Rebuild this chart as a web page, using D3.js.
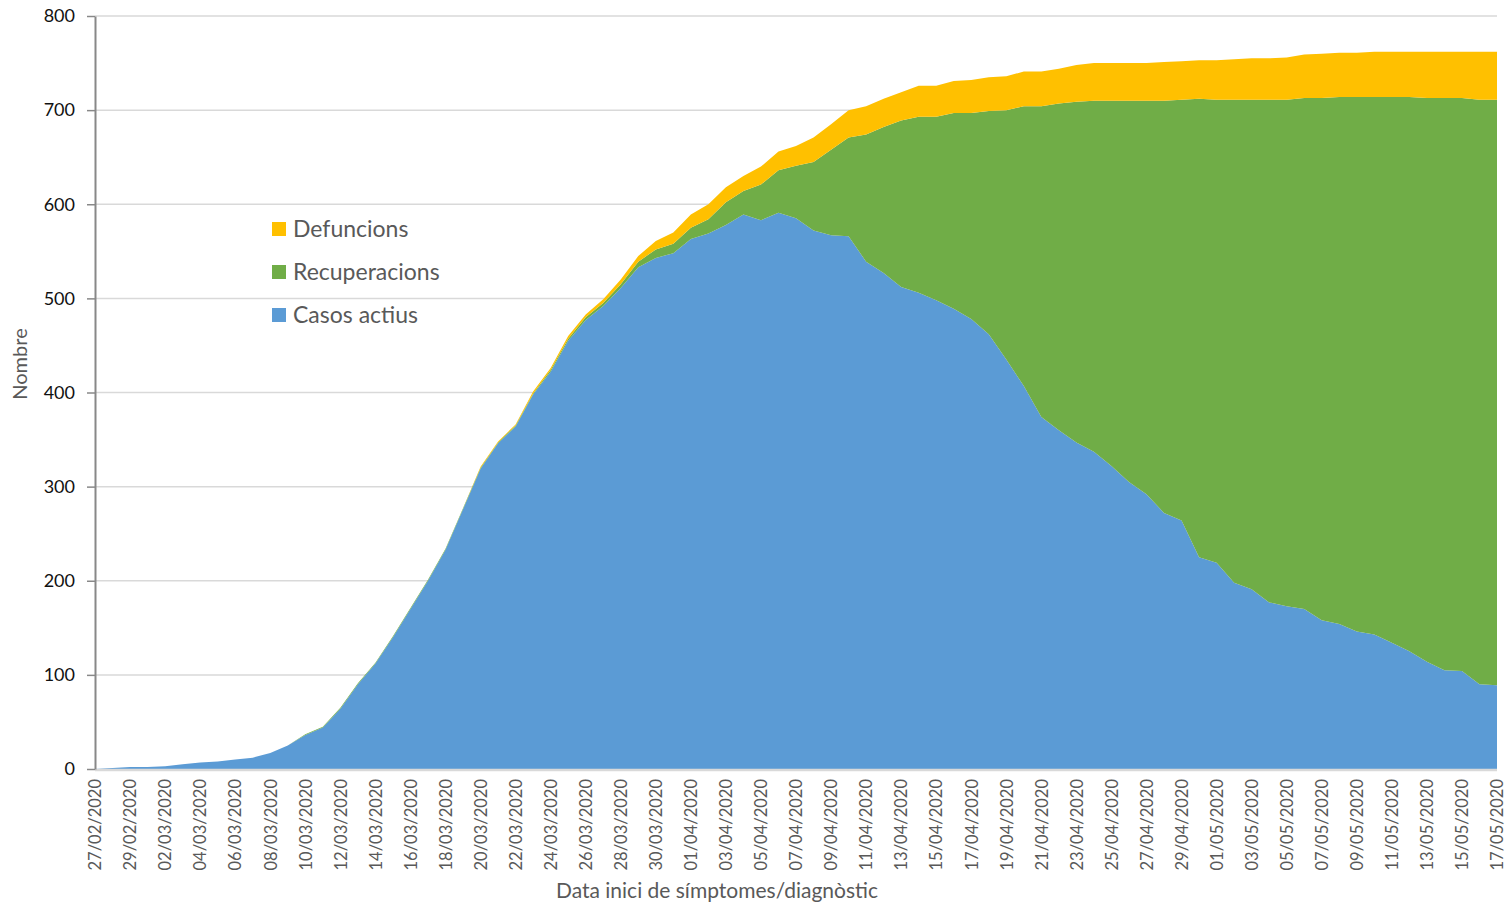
<!DOCTYPE html>
<html>
<head>
<meta charset="utf-8">
<script src="https://cdn.jsdelivr.net/npm/d3@7"></script>
<style>
  body { margin: 0; background: #fff; }
  text { font-family: Lato, "Open Sans", sans-serif; }
</style>
</head>
<body>
<div id="chart"></div>
<script>
// daily dates 27/02/2020 .. 17/05/2020
const dates = [
  "27/02/2020","28/02/2020","29/02/2020","01/03/2020","02/03/2020","03/03/2020","04/03/2020","05/03/2020","06/03/2020","07/03/2020",
  "08/03/2020","09/03/2020","10/03/2020","11/03/2020","12/03/2020","13/03/2020","14/03/2020","15/03/2020","16/03/2020","17/03/2020",
  "18/03/2020","19/03/2020","20/03/2020","21/03/2020","22/03/2020","23/03/2020","24/03/2020","25/03/2020","26/03/2020","27/03/2020",
  "28/03/2020","29/03/2020","30/03/2020","31/03/2020","01/04/2020","02/04/2020","03/04/2020","04/04/2020","05/04/2020","06/04/2020",
  "07/04/2020","08/04/2020","09/04/2020","10/04/2020","11/04/2020","12/04/2020","13/04/2020","14/04/2020","15/04/2020","16/04/2020",
  "17/04/2020","18/04/2020","19/04/2020","20/04/2020","21/04/2020","22/04/2020","23/04/2020","24/04/2020","25/04/2020","26/04/2020",
  "27/04/2020","28/04/2020","29/04/2020","30/04/2020","01/05/2020","02/05/2020","03/05/2020","04/05/2020","05/05/2020","06/05/2020",
  "07/05/2020","08/05/2020","09/05/2020","10/05/2020","11/05/2020","12/05/2020","13/05/2020","14/05/2020","15/05/2020","16/05/2020",
  "17/05/2020"
];

const casosActius = [
  0,1,2,2,3,5,7,8,10,12,
  17,25,36,44,64,90,112,140,170,200,
  233,276,319,346,364,398,422,455,477,492,
  511,533,543,548,563,569,578,589,583,591,
  585,572,567,566,539,527,512,506,498,489,
  478,462,435,407,374,360,347,337,322,305,
  292,272,264,225,219,198,191,177,173,170,
  158,154,146,143,134,125,114,105,104,90,
  89
];

const recuperacions = [
  0,0,0,0,0,0,0,0,0,0,
  0,0,1,1,1,1,1,1,1,1,
  1,1,1,1,1,1,2,2,3,3,
  4,6,9,10,12,15,24,25,38,45,
  56,73,91,105,135,155,177,187,195,208,
  219,237,265,297,330,347,362,373,388,405,
  418,438,447,487,492,513,520,534,538,543,
  555,560,568,571,580,589,599,608,609,621,
  622
];

const defuncions = [
  0,0,0,0,0,0,0,0,0,0,
  0,0,0,0,0,0,0,0,0,0,
  0,0,1,1,1,2,2,3,3,4,
  5,6,9,12,14,16,16,16,19,20,
  21,26,27,29,30,30,30,33,33,34,
  35,36,36,37,37,37,39,40,40,40,
  40,41,41,41,42,43,44,44,45,46,
  47,47,47,48,48,48,49,49,49,51,
  51
];

const seriesKeys = ["Casos actius", "Recuperacions", "Defuncions"];
const colors = { "Casos actius": "#5B9BD5", "Recuperacions": "#70AD47", "Defuncions": "#FFC000" };
const yTicks = [0, 100, 200, 300, 400, 500, 600, 700, 800];

const W = 1510, H = 907;
const margin = { left: 95, right: 13, top: 16, bottom: 138 };

const rows = dates.map((d, i) => ({
  date: d,
  "Casos actius": casosActius[i],
  "Recuperacions": recuperacions[i],
  "Defuncions": defuncions[i]
}));

const svg = d3.select("#chart").append("svg")
  .attr("width", W)
  .attr("height", H);

const x = d3.scalePoint()
  .domain(dates)
  .range([margin.left, W - margin.right]);

const y = d3.scaleLinear()
  .domain([0, 800])
  .range([H - margin.bottom, margin.top]);

// gridlines
svg.append("g")
  .selectAll("line")
  .data(yTicks.filter(t => t > 0))
  .enter()
  .append("line")
  .attr("x1", margin.left)
  .attr("x2", W - margin.right)
  .attr("y1", d => y(d))
  .attr("y2", d => y(d))
  .attr("stroke", "#d9d9d9")
  .attr("stroke-width", 1.5);

const stacked = d3.stack().keys(seriesKeys)(rows);

const area = d3.area()
  .x(d => x(d.data.date))
  .y0(d => y(d[0]))
  .y1(d => y(d[1]));

svg.append("g")
  .selectAll("path")
  .data(stacked)
  .enter()
  .append("path")
  .attr("d", area)
  .attr("fill", d => colors[d.key]);

// x axis baseline
svg.append("line")
  .attr("x1", margin.left)
  .attr("x2", W - margin.right)
  .attr("y1", y(0) + 1)
  .attr("y2", y(0) + 1)
  .attr("stroke", "#d9d9d9")
  .attr("stroke-width", 2.5);

// y axis
const yAxis = svg.append("g")
  .attr("transform", `translate(${margin.left},0)`)
  .call(d3.axisLeft(y).tickValues(yTicks).tickSize(8).tickPadding(12).tickSizeOuter(0));
yAxis.select(".domain").attr("stroke", "#888").attr("stroke-width", 2);
yAxis.selectAll(".tick line").attr("stroke", "#888").attr("stroke-width", 1.5);
yAxis.selectAll("text")
  .attr("fill", "#111")
  .style("font-size", "18px")
  .style("font-family", "Lato, sans-serif");

// x axis labels, every second day
const xAxis = svg.append("g")
  .attr("transform", `translate(0,${y(0)})`)
  .call(d3.axisBottom(x).tickValues(dates.filter((d, i) => i % 2 === 0)).tickSize(0));
xAxis.select(".domain").remove();
xAxis.selectAll("text")
  .attr("transform", "rotate(-90)")
  .attr("x", -10)
  .attr("y", 0)
  .attr("dy", "0.35em")
  .style("text-anchor", "end")
  .attr("fill", "#595959")
  .style("font-size", "16.5px")
  .style("font-family", "Lato, sans-serif");

// axis titles
svg.append("text")
  .attr("x", 717)
  .attr("y", 898)
  .attr("text-anchor", "middle")
  .attr("fill", "#595959")
  .style("font-size", "21px")
  .text("Data inici de símptomes/diagnòstic");

svg.append("text")
  .attr("transform", "translate(27,364) rotate(-90)")
  .attr("text-anchor", "middle")
  .attr("fill", "#595959")
  .style("font-size", "20px")
  .text("Nombre");

// legend
const legendKeys = ["Defuncions", "Recuperacions", "Casos actius"];
const legend = svg.append("g").attr("transform", "translate(272,222)");
const item = legend.selectAll("g")
  .data(legendKeys)
  .enter()
  .append("g")
  .attr("transform", (d, i) => `translate(0,${i * 43})`);
item.append("rect")
  .attr("width", 14)
  .attr("height", 14)
  .attr("fill", d => colors[d]);
item.append("text")
  .attr("x", 21)
  .attr("y", 15)
  .attr("fill", "#595959")
  .style("font-size", "23px")
  .text(d => d);
</script>
</body>
</html>
